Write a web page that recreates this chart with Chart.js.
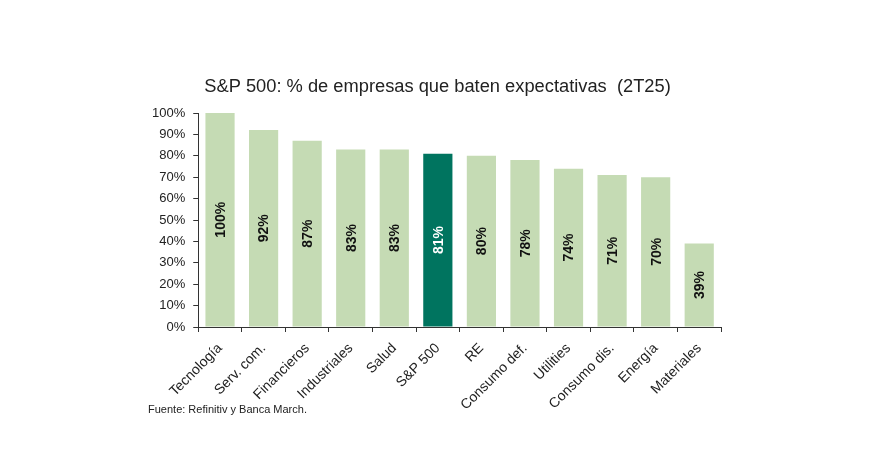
<!DOCTYPE html>
<html>
<head>
<meta charset="utf-8">
<script src="https://cdn.jsdelivr.net/npm/chart.js@4/dist/chart.umd.min.js"></script>
<style>
  html, body { margin: 0; padding: 0; background: #fff; }
  #wrap { position: relative; width: 877px; height: 460px; }
  #source {
    position: absolute; left: 148px; top: 403px;
    font: 11px "Liberation Sans", Arial, sans-serif; color: #222;
  }
</style>
</head>
<body>
<div id="wrap">
  <canvas id="chart" width="877" height="460"></canvas>
  <div id="source">Fuente: Refinitiv y Banca March.</div>
</div>
<script>
const titleText = 'S&P 500: % de empresas que baten expectativas  (2T25)';
const categories = ['Tecnología', 'Serv. com.', 'Financieros', 'Industriales', 'Salud', 'S&P 500',
  'RE', 'Consumo def.', 'Utilities', 'Consumo dis.', 'Energía', 'Materiales'];
const beatPct = [100, 92, 87, 83, 83, 81, 80, 78, 74, 71, 70, 39];
const highlight = 'S&P 500';

const lightGreen = '#c5dbb4';
const darkGreen = '#00745f';
const fontFamily = '"Liberation Sans", Arial, sans-serif';

// title sits a bit left of the plot centre, as in the source image
const chartTitle = {
  id: 'chartTitle',
  afterDraw(chart) {
    const ctx = chart.ctx;
    ctx.save();
    ctx.font = '18.3px ' + fontFamily;
    ctx.fillStyle = '#222';
    ctx.textAlign = 'center';
    ctx.textBaseline = 'middle';
    ctx.fillText(titleText, 437.5, 87);
    ctx.restore();
  }
};

// vertical value labels in the middle of each bar
const barLabels = {
  id: 'barLabels',
  afterDatasetsDraw(chart) {
    const ctx = chart.ctx;
    const meta = chart.getDatasetMeta(0);
    ctx.save();
    ctx.font = 'bold 14px ' + fontFamily;
    ctx.textAlign = 'center';
    ctx.textBaseline = 'middle';
    meta.data.forEach((bar, i) => {
      const mid = (bar.y + bar.base) / 2;
      ctx.save();
      ctx.translate(bar.x + 1, mid);
      ctx.rotate(-Math.PI / 2);
      ctx.fillStyle = categories[i] === highlight ? '#fff' : '#111';
      ctx.fillText(beatPct[i] + '%', 0, 0);
      ctx.restore();
    });
    ctx.restore();
  }
};

// slanted category names, ending just right of each bar centre
const catLabels = {
  id: 'catLabels',
  afterDraw(chart) {
    const ctx = chart.ctx;
    const x = chart.scales.x;
    ctx.save();
    ctx.font = '14px ' + fontFamily;
    ctx.fillStyle = '#222';
    ctx.textAlign = 'right';
    ctx.textBaseline = 'middle';
    categories.forEach((c, i) => {
      ctx.save();
      ctx.translate(x.getPixelForValue(i), x.top + 19);
      ctx.rotate(-Math.PI / 4);
      ctx.fillText(c, 0, 0);
      ctx.restore();
    });
    ctx.restore();
  }
};

new Chart(document.getElementById('chart'), {
  type: 'bar',
  data: {
    labels: categories,
    datasets: [{
      data: beatPct,
      backgroundColor: categories.map(c => c === highlight ? darkGreen : lightGreen),
      barPercentage: 0.67,
      categoryPercentage: 1
    }]
  },
  options: {
    responsive: false,
    animation: false,
    layout: { padding: { left: 144, right: 156, top: 113, bottom: 58 } },
    plugins: {
      legend: { display: false },
      tooltip: { enabled: false },
      title: { display: false }
    },
    scales: {
      x: {
        grid: { display: true, drawOnChartArea: false, offset: true, color: '#333', tickLength: 5 },
        border: { color: '#333', width: 1 },
        ticks: { display: false },
        afterFit: scale => { scale.height = 75; }
      },
      y: {
        min: 0, max: 100,
        grid: { display: true, drawOnChartArea: false, color: '#333', tickLength: 5 },
        border: { color: '#333', width: 1 },
        ticks: {
          stepSize: 10, color: '#222', padding: 8,
          font: { size: 13, family: fontFamily },
          callback: v => v + '%'
        }
      }
    }
  },
  plugins: [barLabels, catLabels, chartTitle]
});
</script>
</body>
</html>
